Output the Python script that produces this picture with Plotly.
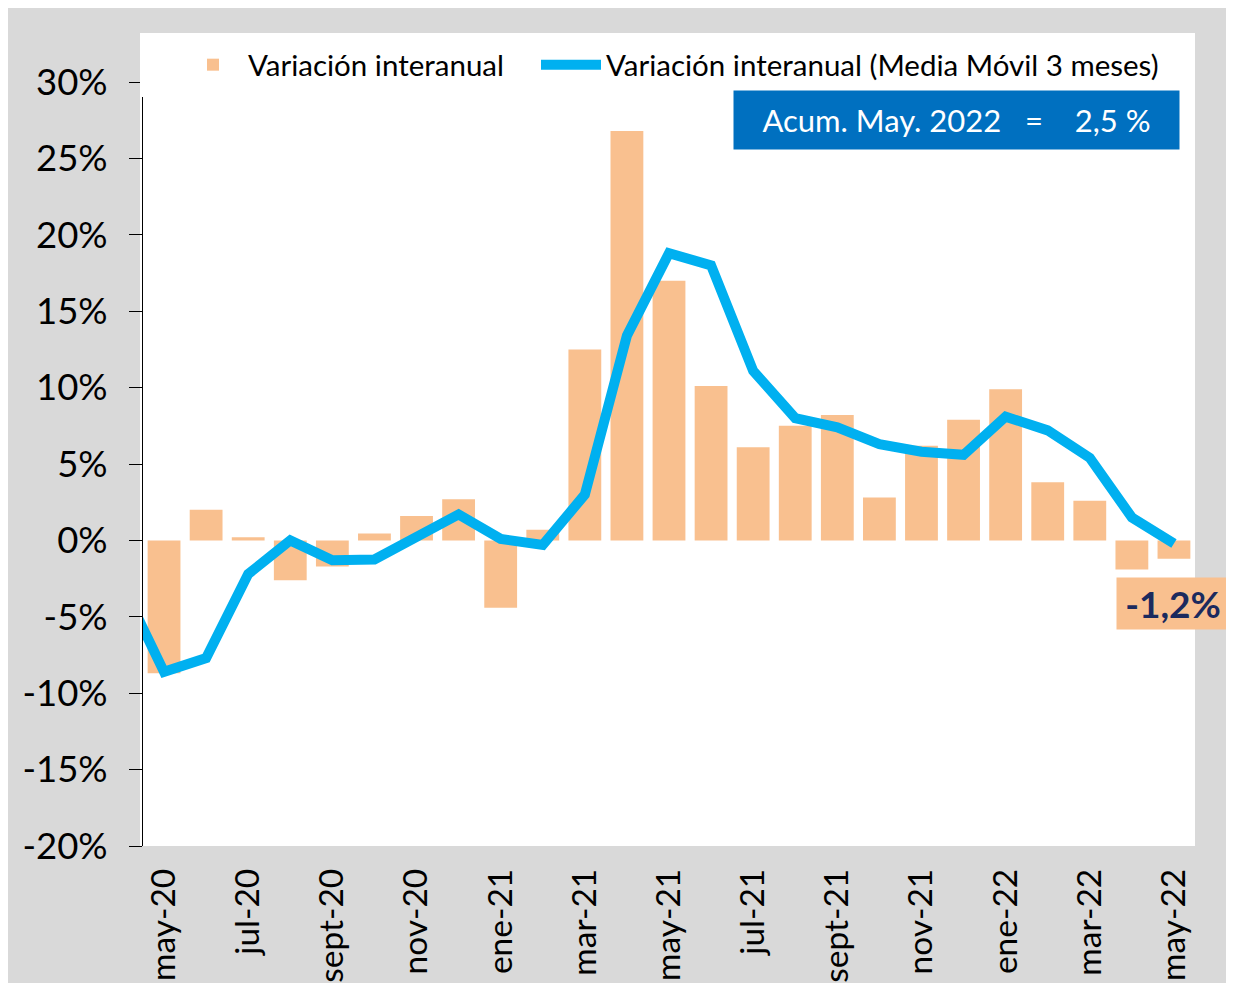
import plotly.graph_objects as go

# ---- data ----
months = ["abr-20", "may-20", "jun-20", "jul-20", "ago-20", "sept-20", "oct-20", "nov-20",
          "dic-20", "ene-21", "feb-21", "mar-21", "abr-21", "may-21", "jun-21", "jul-21",
          "ago-21", "sept-21", "oct-21", "nov-21", "dic-21", "ene-22", "feb-22", "mar-22",
          "abr-22", "may-22"]
bar_months = months[1:]
var_interanual = [-8.7, 2.0, 0.2, -2.6, -1.7, 0.45, 1.6, 2.7, -4.4, 0.7, 12.5, 26.8, 17.0,
                  10.1, 6.1, 7.5, 8.2, 2.8, 6.2, 7.9, 9.9, 3.8, 2.6, -1.9, -1.2]
media_movil_3m = [-2.9, -8.6, -7.7, -2.2, 0.0, -1.3, -1.25, 0.3, 1.7, 0.1, -0.3, 3.0, 13.4,
                  18.8, 18.0, 11.1, 8.0, 7.4, 6.3, 5.8, 5.6, 8.1, 7.2, 5.4, 1.5, -0.2]
tick_labels = bar_months[::2]
y_ticks = list(range(-20, 31, 5))
y_tick_text = [f"{v}%" for v in y_ticks]
acum_text = "Acum. May. 2022"
acum_value = "2,5 %"
last_label = f"{var_interanual[-1]:.1f}%".replace(".", ",")

# page offset of the figure (default body margin)
OFF = 8
W, H = 1234, 983
L, R, T, B = 143 - OFF, 47, 82 - OFF, 145
pw, ph = W - L - R, H - T - B


def px_x(x):
    return (x - OFF - L) / pw


def px_y(y):
    return (H - B - (y - OFF)) / ph


FONT = "Lato"
BAR_COLOR = "#F9C08F"
LINE_COLOR = "#00B0F0"

fig = go.Figure()
fig.add_trace(go.Bar(x=bar_months, y=var_interanual, name="Variación interanual",
                     marker=dict(color=BAR_COLOR, line=dict(width=0)), legend="legend"))
fig.add_trace(go.Scatter(x=months, y=media_movil_3m, mode="lines",
                         name="Variación interanual (Media Móvil 3 meses)",
                         line=dict(color=LINE_COLOR, width=10), cliponaxis=True,
                         legend="legend2"))

boundaries = [i + 0.5 for i in range(2, len(months) - 1, 2)]

legend_common = dict(orientation="h", yanchor="middle", xanchor="left",
                     font=dict(size=29.5, family=FONT), bgcolor="rgba(0,0,0,0)", itemwidth=60)

fig.update_layout(
    width=W, height=H,
    margin=dict(l=L, r=R, t=T, b=B, pad=0, autoexpand=False),
    paper_bgcolor="white", plot_bgcolor="white",
    font=dict(family=FONT, color="black"),
    bargap=0.22,
    showlegend=True,
    legend=dict(x=px_x(178), y=px_y(65), **legend_common),
    legend2=dict(x=px_x(536), y=px_y(65), **legend_common),
    xaxis=dict(type="category", categoryorder="array", categoryarray=months,
               range=[0.5, len(months) - 0.5], tickmode="array", tickvals=tick_labels,
               ticktext=tick_labels, tickangle=-90, ticks="", showline=False, showgrid=False,
               zeroline=False, tickfont=dict(size=33.5, family=FONT), ticklabelstandoff=15,
               automargin=False),
    xaxis2=dict(overlaying="x", anchor="free", position=(0 - y_ticks[0]) / (y_ticks[-1] - y_ticks[0]),
                range=[0.5, len(months) - 0.5], tickmode="array", tickvals=boundaries,
                ticks="outside", ticklen=11, tickcolor="#404040", showticklabels=False,
                showline=True, linecolor="#404040", linewidth=1.2, showgrid=False, zeroline=False,
                automargin=False),
    yaxis=dict(range=[y_ticks[0], y_ticks[-1]], tickmode="array", tickvals=y_ticks,
               ticktext=y_tick_text, ticks="outside", ticklen=13, tickcolor="black",
               showline=True, linecolor="black", linewidth=1.2, showgrid=False, zeroline=False,
               tickfont=dict(size=36.5, family=FONT), ticklabelstandoff=14, automargin=False),
    shapes=[
        dict(type="rect", xref="paper", yref="paper", x0=px_x(7), x1=px_x(1228),
             y0=px_y(H + 20), y1=px_y(4), fillcolor="#D9D9D9", line=dict(width=0), layer="below"),
        dict(type="rect", xref="paper", yref="paper", x0=px_x(140), x1=px_x(1195),
             y0=0, y1=px_y(33), fillcolor="white", line=dict(width=0), layer="below"),
        dict(type="rect", xref="paper", yref="paper", x0=px_x(140), x1=px_x(1195),
             y0=px_y(97), y1=px_y(33), fillcolor="white", line=dict(width=0), layer="above"),
    ],
    annotations=[
        dict(xref="paper", yref="paper", x=px_x(733), y=px_y(90), xanchor="left", yanchor="top",
             text=f"{acum_text}\u00a0\u00a0\u00a0=\u00a0\u00a0\u00a0\u00a0{acum_value}",
             showarrow=False, bgcolor="#0070C0", width=445, height=58, borderpad=0,
             font=dict(size=31, color="white", family=FONT), align="center", valign="middle"),
        dict(xref="paper", yref="paper", x=px_x(1116), y=px_y(577), xanchor="left", yanchor="top",
             text=f"<b>{last_label}</b>", showarrow=False, bgcolor=BAR_COLOR, width=112, height=51,
             borderpad=0, font=dict(size=37, color="#1B2A5E", family=FONT), align="center",
             valign="middle"),
    ],
)

fig.write_html("out.html")
